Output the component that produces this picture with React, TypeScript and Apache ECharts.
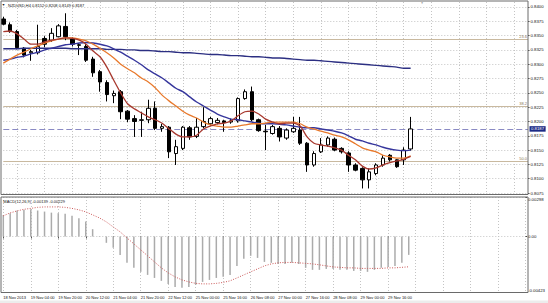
import { useEffect, useRef } from 'react';
import * as echarts from 'echarts';

const tickLabels = ['18 Nov 2013', '19 Nov 04:00', '19 Nov 20:00', '20 Nov 12:00', '21 Nov 04:00', '21 Nov 20:00', '22 Nov 12:00', '25 Nov 00:00', '25 Nov 16:00', '26 Nov 08:00', '27 Nov 00:00', '27 Nov 16:00', '28 Nov 08:00', '29 Nov 00:00', '29 Nov 16:00'];

const opens = [0.8379, 0.8369, 0.8357, 0.8328, 0.8320, 0.8320, 0.8345, 0.8342, 0.8348, 0.8366, 0.8344, 0.8334, 0.8331, 0.8309, 0.8287, 0.8268, 0.8245, 0.8252, 0.8218, 0.8205, 0.8202, 0.8203, 0.8223, 0.8188, 0.8190, 0.8144, 0.8153, 0.8189, 0.8174, 0.8191, 0.8196, 0.8198, 0.8201, 0.8199, 0.8201, 0.8240, 0.8252, 0.8203, 0.8183, 0.8179, 0.8188, 0.8171, 0.8182, 0.8185, 0.8162, 0.8124, 0.8147, 0.8159, 0.8169, 0.8153, 0.8145, 0.8124, 0.8118, 0.8098, 0.8109, 0.8124, 0.8141, 0.8133, 0.8133, 0.8152];
const closes = [0.8370, 0.8357, 0.8329, 0.8316, 0.8322, 0.8331, 0.8335, 0.8354, 0.8367, 0.8348, 0.8335, 0.8333, 0.8307, 0.8285, 0.8269, 0.8247, 0.8249, 0.8217, 0.8204, 0.8200, 0.8203, 0.8223, 0.8188, 0.8191, 0.8147, 0.8156, 0.8190, 0.8173, 0.8190, 0.8200, 0.8205, 0.8202, 0.8198, 0.8201, 0.8240, 0.8252, 0.8203, 0.8184, 0.8182, 0.8191, 0.8173, 0.8185, 0.8188, 0.8162, 0.8124, 0.8144, 0.8159, 0.8171, 0.8150, 0.8147, 0.8124, 0.8115, 0.8098, 0.8112, 0.8124, 0.8136, 0.8133, 0.8121, 0.8150, 0.8187];
const highs = [0.8383, 0.8373, 0.8360, 0.8330, 0.8325, 0.8369, 0.8349, 0.8363, 0.8370, 0.8389, 0.8347, 0.8337, 0.8335, 0.8313, 0.8290, 0.8272, 0.8254, 0.8255, 0.8220, 0.8211, 0.8217, 0.8238, 0.8235, 0.8196, 0.8192, 0.8168, 0.8192, 0.8192, 0.8206, 0.8225, 0.8208, 0.8206, 0.8203, 0.8205, 0.8242, 0.8256, 0.8261, 0.8205, 0.8194, 0.8194, 0.8192, 0.8188, 0.8208, 0.8208, 0.8164, 0.8148, 0.8171, 0.8174, 0.8172, 0.8155, 0.8148, 0.8127, 0.8120, 0.8118, 0.8127, 0.8141, 0.8143, 0.8134, 0.8155, 0.8208];
const lows = [0.8368, 0.8355, 0.8326, 0.8312, 0.8306, 0.8317, 0.8330, 0.8339, 0.8347, 0.8342, 0.8331, 0.8316, 0.8304, 0.8278, 0.8252, 0.8235, 0.8232, 0.8204, 0.8199, 0.8173, 0.8173, 0.8197, 0.8185, 0.8182, 0.8136, 0.8124, 0.8150, 0.8168, 0.8171, 0.8188, 0.8193, 0.8195, 0.8182, 0.8196, 0.8198, 0.8238, 0.8200, 0.8182, 0.8150, 0.8177, 0.8165, 0.8168, 0.8180, 0.8159, 0.8112, 0.8121, 0.8145, 0.8156, 0.8148, 0.8144, 0.8112, 0.8113, 0.8083, 0.8083, 0.8106, 0.8121, 0.8130, 0.8119, 0.8124, 0.8149];

const maFast = [0.8357, 0.8358, 0.8353, 0.8344, 0.8335, 0.8335, 0.8339, 0.8342, 0.8344, 0.8346, 0.8345, 0.8342, 0.8335, 0.8323, 0.8313, 0.8295, 0.8272, 0.8250, 0.8231, 0.8222, 0.8215, 0.8208, 0.8203, 0.8197, 0.8187, 0.8178, 0.8173, 0.8173, 0.8176, 0.8187, 0.8192, 0.8196, 0.8197, 0.8201, 0.8210, 0.8217, 0.8218, 0.8213, 0.8204, 0.8199, 0.8196, 0.8197, 0.8197, 0.8192, 0.8173, 0.8162, 0.8159, 0.8157, 0.8154, 0.8150, 0.8141, 0.8133, 0.8122, 0.8117, 0.8119, 0.8124, 0.8128, 0.8131, 0.8134, 0.8139];
const maMid = [0.8302, 0.8309, 0.8316, 0.8321, 0.8327, 0.8332, 0.8337, 0.8341, 0.8344, 0.8346, 0.8346, 0.8344, 0.8341, 0.8335, 0.8328, 0.8320, 0.8311, 0.8300, 0.8292, 0.8285, 0.8276, 0.8269, 0.8259, 0.8246, 0.8236, 0.8227, 0.8218, 0.8211, 0.8206, 0.8199, 0.8194, 0.8192, 0.8190, 0.8190, 0.8192, 0.8194, 0.8196, 0.8196, 0.8197, 0.8199, 0.8199, 0.8199, 0.8199, 0.8196, 0.8190, 0.8187, 0.8183, 0.8180, 0.8176, 0.8173, 0.8168, 0.8161, 0.8154, 0.8150, 0.8147, 0.8141, 0.8138, 0.8136, 0.8136, 0.8140];
const maSlow = [0.8307, 0.8309, 0.8312, 0.8314, 0.8318, 0.8321, 0.8325, 0.8328, 0.8331, 0.8334, 0.8335, 0.8337, 0.8338, 0.8337, 0.8335, 0.8332, 0.8327, 0.8321, 0.8314, 0.8307, 0.8299, 0.8290, 0.8283, 0.8276, 0.8267, 0.8258, 0.8252, 0.8243, 0.8234, 0.8227, 0.8220, 0.8213, 0.8208, 0.8204, 0.8203, 0.8201, 0.8199, 0.8197, 0.8196, 0.8196, 0.8195, 0.8194, 0.8192, 0.8190, 0.8189, 0.8189, 0.8187, 0.8185, 0.8183, 0.8180, 0.8175, 0.8169, 0.8166, 0.8162, 0.8159, 0.8155, 0.8152, 0.8150, 0.8149, 0.8150];
const maLong = [0.8327, 0.8327, 0.8327, 0.8328, 0.8328, 0.8328, 0.8328, 0.8328, 0.8328, 0.8328, 0.8327, 0.8327, 0.8327, 0.8327, 0.8327, 0.8326, 0.8326, 0.8326, 0.8325, 0.8325, 0.8324, 0.8324, 0.8323, 0.8322, 0.8322, 0.8321, 0.8320, 0.8320, 0.8319, 0.8318, 0.8317, 0.8317, 0.8316, 0.8315, 0.8315, 0.8314, 0.8313, 0.8313, 0.8312, 0.8311, 0.8311, 0.8310, 0.8309, 0.8308, 0.8307, 0.8307, 0.8306, 0.8305, 0.8304, 0.8303, 0.8302, 0.8301, 0.8300, 0.8299, 0.8298, 0.8297, 0.8296, 0.8295, 0.8293, 0.8293];

const macdMain = [0.00163, 0.00176, 0.00196, 0.00201, 0.00206, 0.00196, 0.00188, 0.00180, 0.00176, 0.00171, 0.00156, 0.00138, 0.00113, 0.00055, 0.00003, -0.00048, -0.00086, -0.00139, -0.00199, -0.00237, -0.00267, -0.00290, -0.00313, -0.00335, -0.00358, -0.00381, -0.00388, -0.00381, -0.00365, -0.00343, -0.00328, -0.00313, -0.00305, -0.00290, -0.00222, -0.00169, -0.00146, -0.00162, -0.00192, -0.00199, -0.00207, -0.00207, -0.00199, -0.00207, -0.00237, -0.00252, -0.00252, -0.00245, -0.00245, -0.00252, -0.00252, -0.00260, -0.00260, -0.00267, -0.00252, -0.00237, -0.00230, -0.00222, -0.00199, -0.00139];
const macdSignal = [0.00156, 0.00178, 0.00193, 0.00205, 0.00212, 0.00220, 0.00223, 0.00223, 0.00223, 0.00220, 0.00212, 0.00201, 0.00186, 0.00163, 0.00140, 0.00110, 0.00072, 0.00035, -0.00011, -0.00056, -0.00101, -0.00146, -0.00192, -0.00237, -0.00275, -0.00305, -0.00328, -0.00343, -0.00354, -0.00358, -0.00358, -0.00354, -0.00347, -0.00335, -0.00313, -0.00290, -0.00267, -0.00245, -0.00222, -0.00207, -0.00199, -0.00196, -0.00196, -0.00199, -0.00203, -0.00207, -0.00214, -0.00222, -0.00230, -0.00233, -0.00237, -0.00237, -0.00241, -0.00241, -0.00241, -0.00241, -0.00237, -0.00237, -0.00233, -0.00229];

const priceTicks = [0.8075, 0.81, 0.8125, 0.815, 0.8175, 0.82, 0.8225, 0.825, 0.8275, 0.83, 0.8325, 0.835, 0.8375, 0.84];
const macdTicks = [-0.00423, 0, 0.00298];
const fibLevels = [0.8344, 0.8226, 0.8130];
const fibNames = ['23.6', '38.2', '50.0'];
const lastPrice = 0.8187;
const headerText = 'NZDUSD,H4 0.8152 0.8208 0.8149 0.8187';
const macdHeader = 'MACD(12,26,9) -0.00139 -0.00229';

const SLOTS = 77;
const FONT = '"Liberation Sans", Arial, sans-serif';

export default function App() {
  const ref = useRef<HTMLDivElement>(null);
  useEffect(() => {
    if (!ref.current) return;
    const chart = echarts.init(ref.current, undefined, { renderer: 'svg' });
    const cats = Array.from({ length: SLOTS }, (_, i) => String(i));
    const candles = opens.map((o, i) => [o, closes[i], lows[i], highs[i]]);
    const grid = { color: '#c4c4c4', type: [1, 2] as any, width: 1 };
    const labelIdx = (i: number) => i % 4 === 0 && i / 4 < tickLabels.length;

    const fibData: any[] = fibLevels.map((v, i) => ({
      yAxis: v,
      lineStyle: { color: '#c9b99f', type: 'solid', width: 1 },
      label: { show: true, position: 'insideEndTop', formatter: fibNames[i], fontSize: 4, color: '#8c7656', distance: 1, fontFamily: FONT },
    }));
    fibData.push({
      yAxis: lastPrice,
      lineStyle: { color: '#8a8ac4', type: [6, 3], width: 1 },
      label: {
        show: true, position: 'end', formatter: lastPrice.toFixed(4), fontSize: 4.3, color: '#ffffff',
        backgroundColor: '#1c2a86', padding: [1, 1.5, 0.5, 1.5], distance: 1.5, fontFamily: FONT,
      },
    });

    const lineSeries = (name: string, data: number[], color: string, width: number) => ({
      name, type: 'line', xAxisIndex: 0, yAxisIndex: 0, data, symbol: 'none', smooth: 0.25,
      lineStyle: { color, width }, z: 3, silent: true,
    });

    const longSeries: any = lineSeries('MA long', maLong, '#2c2f82', 1.4);
    longSeries.markLine = { silent: true, symbol: ['none', 'none'], precision: 6, data: fibData, z: 1, animation: false };

    chart.setOption({
      animation: false,
      backgroundColor: '#ffffff',
      textStyle: { fontFamily: FONT },
      grid: [
        { left: 3.3, width: 524.7, top: 2, height: 192.5 },
        { left: 3.3, width: 524.7, top: 197, height: 95.5 },
      ],
      xAxis: [
        {
          type: 'category', gridIndex: 0, data: cats, boundaryGap: false,
          axisLine: { show: false }, axisTick: { show: false }, axisLabel: { show: false },
          splitLine: { show: true, interval: (i: number) => i % 4 === 2, lineStyle: grid },
        },
        {
          type: 'category', gridIndex: 1, data: cats, boundaryGap: false,
          axisLine: { show: false },
          axisTick: { show: true, interval: (i: number) => labelIdx(i), length: 2, lineStyle: { color: '#555' } },
          axisLabel: {
            show: true, interval: (i: number) => labelIdx(i), align: 'left', fontSize: 4, color: '#111', margin: 3,
            formatter: (_v: string, i: number) => tickLabels[i / 4] ?? '', fontFamily: FONT,
          },
          splitLine: { show: true, interval: (i: number) => i % 4 === 0, lineStyle: grid },
        },
      ],
      yAxis: [
        {
          type: 'value', gridIndex: 0, position: 'right', min: 0.807244, max: 0.84087, scale: true,
          axisLine: { show: false },
          axisTick: { show: true, customValues: priceTicks, length: 1.5, lineStyle: { color: '#444' } },
          axisLabel: { customValues: priceTicks, formatter: (v: number) => v.toFixed(4), fontSize: 4.3, color: '#111', margin: 2.5, fontFamily: FONT },
          splitLine: { show: true, lineStyle: grid },
        },
        {
          type: 'value', gridIndex: 1, position: 'right', min: -0.00423, max: 0.00298, scale: true,
          axisLine: { show: false },
          axisTick: { show: true, customValues: macdTicks, length: 1.5, lineStyle: { color: '#444' } },
          axisLabel: {
            customValues: macdTicks, fontSize: 4.3, color: '#111', margin: 2.5, fontFamily: FONT,
            formatter: (v: number) => (v > 0.002 ? '{t|0.00298}' : v < -0.004 ? '{b|-0.00423}' : '0.00'),
            rich: {
              t: { padding: [5, 0, 0, 0], fontSize: 4.3, color: '#111', fontFamily: FONT },
              b: { padding: [0, 0, 5, 0], fontSize: 4.3, color: '#111', fontFamily: FONT },
            },
          },
          splitLine: { show: true, lineStyle: grid },
        },
      ],
      series: [
        {
          type: 'candlestick', xAxisIndex: 0, yAxisIndex: 0, data: candles, barWidth: 4, z: 2,
          itemStyle: { color: '#ffffff', color0: '#000000', borderColor: '#000000', borderColor0: '#000000', borderWidth: 1 },
        },
        longSeries,
        lineSeries('MA slow', maSlow, '#36369c', 1.4),
        lineSeries('MA mid', maMid, '#e8792c', 1.3),
        lineSeries('MA fast', maFast, '#a8392f', 1.3),
        {
          name: 'MACD', type: 'bar', xAxisIndex: 1, yAxisIndex: 1, data: macdMain, barWidth: 1.5,
          itemStyle: { color: '#ababab' }, silent: true,
        },
        {
          name: 'Signal', type: 'line', xAxisIndex: 1, yAxisIndex: 1, data: macdSignal, symbol: 'none',
          lineStyle: { color: '#cc5a5a', width: 1, type: [1, 1.5] }, silent: true,
        },
      ],
      graphic: [
        { type: 'rect', z: 100, silent: true, shape: { x: 1, y: 1, width: 527, height: 193.5 }, style: { fill: 'none', stroke: '#6a6a6a', lineWidth: 1 } },
        { type: 'rect', z: 100, silent: true, shape: { x: 1, y: 197, width: 527, height: 95.5 }, style: { fill: 'none', stroke: '#6a6a6a', lineWidth: 1 } },
        { type: 'rect', z: 99, silent: true, shape: { x: 0, y: 300.5, width: 548, height: 3 }, style: { fill: '#ececec' } },
        { type: 'text', z: 101, x: 1.8, y: 5, style: { text: '▼', fontSize: 3.5, fill: '#222', verticalAlign: 'middle', fontFamily: FONT } },
        { type: 'text', z: 101, x: 8, y: 5, style: { text: headerText, fontSize: 4, fill: '#111', verticalAlign: 'middle', fontFamily: FONT } },
        { type: 'text', z: 101, x: 420.5, y: 2.6, style: { text: '▼', fontSize: 3.2, fill: '#9a9a9a', verticalAlign: 'middle', fontFamily: FONT } },
        { type: 'text', z: 101, x: 3.3, y: 201, style: { text: macdHeader, fontSize: 4, fill: '#111', verticalAlign: 'middle', fontFamily: FONT } },
      ],
    });
    return () => chart.dispose();
  }, []);
  return <div ref={ref} style={{ position: 'fixed', left: 0, top: 0, width: 548, height: 303, background: '#fff' }} />;
}
